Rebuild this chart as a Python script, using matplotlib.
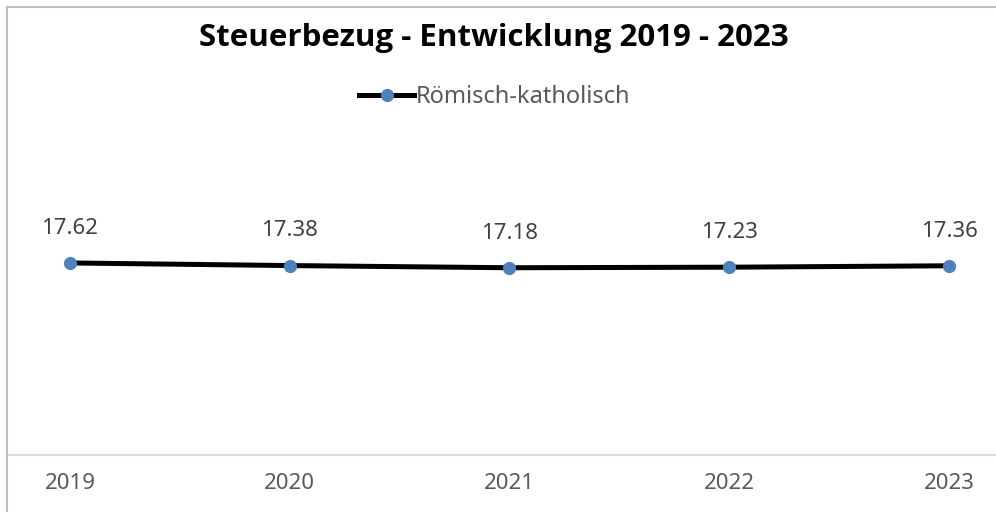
import matplotlib
matplotlib.use("Agg")
import matplotlib.pyplot as plt
from matplotlib.lines import Line2D

# === Data ===
years = ["2019", "2020", "2021", "2022", "2023"]
values = [17.62, 17.38, 17.18, 17.23, 17.36]
series_name = "Römisch-katholisch"

plt.rcParams['font.family'] = ['Noto Sans', 'DejaVu Sans']

fig = plt.figure(figsize=(9.96, 5.12), dpi=100)
ax = fig.add_axes([0.008, 0.1113, 0.992, 0.6387])

x = list(range(len(years)))
line, = ax.plot(x, values, color='black', linewidth=3.6, zorder=3,
                marker='o', markersize=9.5, markerfacecolor='#4f81bd',
                markeredgewidth=0, label=series_name)

# data labels
for xi, v in zip(x, values):
    ax.annotate(f"{v:.2f}", (xi, v), xytext=(0, 25), textcoords='offset points',
                ha='center', va='center', fontsize=16, color='#404040')

ax.set_xlim(-0.282, 4.214)
ax.set_ylim(0, 30)
ax.set_xticks(x)
ax.set_xticklabels(years, fontsize=16, color='#595959')
ax.tick_params(axis='x', length=0, pad=13)
ax.set_yticks([])

for s in ['top', 'left', 'right']:
    ax.spines[s].set_visible(False)
ax.spines['bottom'].set_color('#d9d9d9')
ax.spines['bottom'].set_linewidth(1.5)

# Title and legend
fig.text(0.4955, 0.926, "Steuerbezug - Entwicklung 2019 - 2023",
         ha='center', va='center', fontsize=22.5, fontweight='bold', color='black',
         family=['Open Sans', 'DejaVu Sans'])
fig.legend(handles=[line], loc='center', bbox_to_anchor=(0.497, 0.8105),
           frameon=False, fontsize=17, handlelength=2.3, handletextpad=0.1,
           labelcolor='#595959')

# chart border (top and left visible)
fig.add_artist(Line2D([7/996, 1], [1 - 7/512, 1 - 7/512], transform=fig.transFigure,
                      color='#bfbfbf', linewidth=1.5))
fig.add_artist(Line2D([7/996, 7/996], [0, 1 - 7/512], transform=fig.transFigure,
                      color='#bfbfbf', linewidth=1.5))

fig.savefig("out.png", dpi=100)
